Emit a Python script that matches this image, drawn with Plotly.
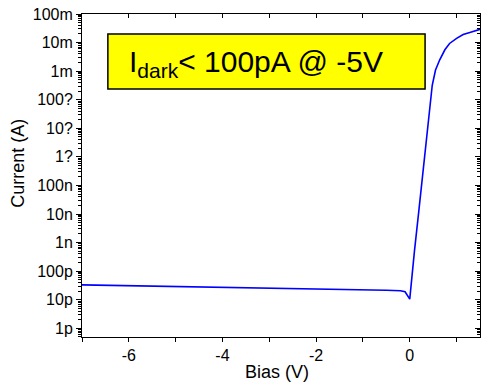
import plotly.graph_objects as go

bias = [-7, -6.5, -6, -5.5, -5, -4.5, -4, -3.5, -3, -2.5, -2, -1.5, -1, -0.5, -0.2, -0.1,
        0.0, 0.05, 0.1, 0.2, 0.3, 0.4, 0.48, 0.55, 0.64, 0.75, 0.85, 1.0, 1.14, 1.3, 1.5]
current = [33e-12, 32e-12, 31e-12, 30e-12, 29e-12, 28e-12, 27.5e-12, 26.5e-12, 26e-12, 25e-12,
           24.5e-12, 23.5e-12, 22.5e-12, 21.5e-12, 20.5e-12, 19e-12,
           10.5e-12, 8e-11, 5e-10, 1.6e-8, 5e-7, 1.6e-5, 3.2e-4, 1.1e-3, 2.5e-3, 5.6e-3,
           9.3e-3, 1.4e-2, 1.9e-2, 2.3e-2, 2.9e-2]

y_tickvals = [1e-12, 1e-11, 1e-10, 1e-9, 1e-8, 1e-7, 1e-6, 1e-5, 1e-4, 1e-3, 1e-2, 1e-1]
y_ticktext = ["1p", "10p", "100p", "1n", "10n", "100n", "1?", "10?", "100?", "1m", "10m", "100m"]
y_minor = [m * 10.0 ** k for k in range(-13, -1) for m in range(2, 10)]
x_tickvals = [-6, -4, -2, 0]
x_alltick = [-7, -6, -5, -4, -3, -2, -1, 0, 1]

FONT = "Liberation Sans, Arial, sans-serif"
yrange = [-12.305, -1]
xrange = [-7, 1.5]

fig = go.Figure()
fig.add_trace(go.Scatter(x=bias, y=current, mode="lines",
                         line=dict(color="#0000FF", width=1.6), showlegend=False))

fig.update_layout(
    width=481, height=386, autosize=False,
    margin=dict(l=82, r=1, t=14, b=49, autoexpand=False),
    paper_bgcolor="white", plot_bgcolor="white",
    font=dict(family=FONT, color="black", size=16),
    xaxis=dict(range=xrange, tickvals=x_tickvals, ticktext=[str(v) for v in x_tickvals],
               ticks="outside", ticklen=4, tickcolor="black", showline=True,
               linecolor="black", linewidth=1, showgrid=False, zeroline=False, automargin=False,
               minor=dict(tickvals=x_alltick, ticks="outside", ticklen=4, tickcolor="black"),
               tickfont=dict(size=16)),
    xaxis2=dict(range=xrange, overlaying="x", side="top", tickvals=x_alltick,
                ticks="inside", ticklen=4, tickcolor="black", showticklabels=False, automargin=False,
                showline=True, linecolor="black", linewidth=1, showgrid=False, zeroline=False),
    yaxis=dict(type="log", range=yrange, tickvals=y_tickvals, ticktext=y_ticktext,
               ticks="outside", ticklen=5, tickcolor="black", showline=True, automargin=False,
               linecolor="black", linewidth=1, showgrid=False, zeroline=False,
               minor=dict(tickvals=y_minor, ticks="outside", ticklen=3, tickcolor="black"),
               tickfont=dict(size=16)),
    yaxis2=dict(type="log", range=yrange, overlaying="y", side="right", tickvals=y_tickvals,
                ticks="inside", ticklen=5, tickcolor="black", showticklabels=False, automargin=False,
                showline=True, linecolor="black", linewidth=1, showgrid=False, zeroline=False,
                minor=dict(tickvals=y_minor, ticks="inside", ticklen=3, tickcolor="black")),
)

# invisible trace to anchor overlay axes
fig.add_trace(go.Scatter(x=[bias[0]], y=[current[0]], xaxis="x2", yaxis="y2",
                         mode="markers", marker=dict(opacity=0), showlegend=False,
                         hoverinfo="skip"))

fig.add_shape(type="rect", xref="paper", yref="paper", x0=0.065, x1=0.862, y0=0.768, y1=0.938,
              fillcolor="#FFFF00", line=dict(color="black", width=1.5), layer="above")
fig.add_annotation(xref="paper", yref="paper", x=0.112, y=0.848, xanchor="left", yanchor="middle",
                   text="I<sub>dark</sub>< 100pA @ -5V", showarrow=False,
                   font=dict(family=FONT, size=30, color="black"))
fig.add_annotation(xref="paper", yref="paper", x=0.49, y=-0.108, xanchor="center", yanchor="middle",
                   text="Bias (V)", showarrow=False, font=dict(family=FONT, size=18))
fig.add_annotation(xref="paper", yref="paper", x=-0.161, y=0.539, xanchor="center", yanchor="middle",
                   text="Current (A)", textangle=-90, showarrow=False, font=dict(family=FONT, size=18))

post = ("document.body.style.margin='0';document.body.style.overflow='hidden';"
        "var gd=document.getElementById('{plot_id}');"
        "Plotly.relayout(gd,{width:481,height:386});")
fig.write_html("out.html", config={"responsive": False, "displayModeBar": False}, post_script=post)
